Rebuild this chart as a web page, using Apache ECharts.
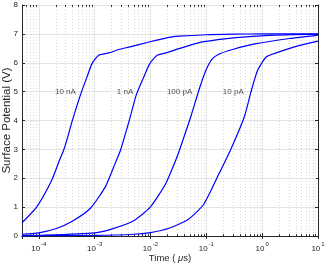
<!DOCTYPE html>
<html><head><meta charset="utf-8">
<script src="https://cdn.jsdelivr.net/npm/echarts@6/dist/echarts.min.js"></script>
<style>html,body{margin:0;padding:0;background:#fff}#c{width:328px;height:266px}</style>
</head><body><div id="c"></div><script>
// Time (µs) and surface potential (V)
const t10nA = [5e-5, 9.2e-5, 1.71e-4, 2.42e-4, 2.78e-4, 3.18e-4, 3.92e-4, 5.55e-4, 7.3e-4, 8.97e-4, 1.18e-3, 1.79e-3, 2.71e-3, 4.1e-3, 9.4e-3, 0.0215, 0.0325, 0.1, 0.3, 1, 10];
const v10nA = [0.46, 1.01, 1.94, 2.69, 2.97, 3.32, 3.95, 4.88, 5.51, 5.97, 6.26, 6.34, 6.46, 6.54, 6.72, 6.88, 6.92, 6.97, 6.99, 7.0, 7.0];
const t1nA = [5e-5, 1e-4, 2e-4, 3.9e-4, 8.4e-4, 1.56e-3, 2.2e-3, 2.9e-3, 4.1e-3, 5.55e-3, 7.6e-3, 9.7e-3, 0.0132, 0.0188, 0.0325, 0.05, 0.085, 0.34, 1.35, 10];
const v1nA = [0.06, 0.11, 0.25, 0.5, 0.96, 1.71, 2.40, 2.97, 3.95, 4.88, 5.51, 5.97, 6.26, 6.34, 6.49, 6.60, 6.72, 6.87, 6.95, 6.99];
const t100pA = [5e-5, 1e-4, 1e-3, 2e-3, 5e-3, 0.01, 0.0188, 0.0284, 0.033, 0.0527, 0.075, 0.0985, 0.129, 0.18, 0.296, 0.78, 3.1, 10];
const v100pA = [0.01, 0.02, 0.11, 0.24, 0.53, 1.01, 1.82, 2.63, 2.97, 4.13, 5.1, 5.74, 6.14, 6.32, 6.46, 6.66, 6.84, 6.96];
const t10pA = [5e-5, 1e-3, 5e-3, 0.01, 0.0215, 0.047, 0.09, 0.17, 0.27, 0.48, 0.63, 0.83, 1.18, 1.78, 4.7, 10];
const v10pA = [0.005, 0.02, 0.06, 0.12, 0.27, 0.57, 1.1, 2.17, 2.97, 4.13, 4.99, 5.74, 6.2, 6.34, 6.6, 6.75];

const curveNames = ['10 nA', '1 nA', '100 pA', '10 pA'];
const labelT = [3.0e-4, 3.5e-3, 0.0332, 0.304];
const labelV = [5, 5, 5, 5];

const xMin = 5e-5, xMax = 10;
const yMin = 0, yMax = 8, yStep = 1;
const minorTicks = [];
for (let d = -5; d <= 0; d++) for (let m = 2; m <= 9; m++) {
  const v = m * Math.pow(10, d);
  if (v > xMin * 1.0001 && v < xMax) minorTicks.push(v);
}

const TXT = '#262626';
const FONT = 'Liberation Sans, Arial, Helvetica, sans-serif';
const zip = (a, b) => a.map((x, i) => [x, b[i]]);

const curves = [[t10nA, v10nA], [t1nA, v1nA], [t100pA, v100pA], [t10pA, v10pA]];

const chart = echarts.init(document.getElementById('c'), null, {renderer: 'canvas'});
const option = {
  animation: false,
  backgroundColor: '#fff',
  textStyle: {fontFamily: FONT},
  grid: {left: 22, right: 10, top: 5, bottom: 30, containLabel: false, outerBoundsMode: 'none'},
  xAxis: [{
    type: 'log', logBase: 10, min: xMin, max: xMax,
    axisLine: {show: true, lineStyle: {color: TXT, width: 1}},
    axisTick: {show: true, inside: true, length: 3, lineStyle: {color: TXT, width: 1}},
    axisLabel: {
      margin: 5, showMinLabel: false,
      formatter: v => {
        const e = Math.log10(v), r = Math.round(e);
        if (Math.abs(e - r) > 1e-6) return '';
        return '{b|10}{s|' + (r < 0 ? '-' + (-r) : r) + '}';
      },
      rich: {
        b: {fontSize: 8, color: TXT, fontFamily: FONT, lineHeight: 12, verticalAlign: 'bottom'},
        s: {fontSize: 6, color: TXT, fontFamily: FONT, lineHeight: 6, verticalAlign: 'top', padding: [0, 0, 0, 1]}
      }
    },
    splitLine: {show: true, lineStyle: {color: '#e3e3e3', width: 1}},
    name: 'Time ( {i|\u03bc}s)', nameLocation: 'middle', nameGap: 17, nameMoveOverlap: false,
    nameTextStyle: {fontSize: 9.5, color: TXT, fontFamily: FONT,
      rich: {i: {fontSize: 9.5, fontStyle: 'italic', color: TXT, fontFamily: FONT}}}
  }, {
    type: 'log', logBase: 10, min: xMin, max: xMax, position: 'top',
    axisLine: {show: true, lineStyle: {color: TXT, width: 1}},
    axisTick: {show: true, inside: true, length: 3, lineStyle: {color: TXT, width: 1}},
    axisLabel: {show: false}, splitLine: {show: false}
  }],
  yAxis: [{
    type: 'value', min: yMin, max: yMax, interval: yStep,
    axisLine: {show: true, lineStyle: {color: TXT, width: 1}},
    axisTick: {show: true, inside: true, length: 3, lineStyle: {color: TXT, width: 1}},
    axisLabel: {margin: 4, fontSize: 8, color: TXT, fontFamily: FONT},
    splitLine: {show: true, lineStyle: {color: '#e3e3e3', width: 1}},
    name: 'Surface Potential (V)', nameLocation: 'middle', nameGap: 9, nameMoveOverlap: false,
    nameTextStyle: {fontSize: 11.5, color: TXT, fontFamily: FONT}
  }, {
    type: 'value', min: yMin, max: yMax, interval: yStep, position: 'right',
    axisLine: {show: true, lineStyle: {color: TXT, width: 1}},
    axisTick: {show: true, inside: true, length: 3, lineStyle: {color: TXT, width: 1}},
    axisLabel: {show: false}, splitLine: {show: false}
  }],
  series: [{
    type: 'custom', silent: true, z: 1, clip: true,
    data: minorTicks.map(t => [t, yMin]),
    encode: {x: 0, y: 1},
    renderItem: (params, api) => {
      const t = api.value(0);
      const p0 = api.coord([t, yMin]), p1 = api.coord([t, yMax]);
      const x = Math.round(p0[0]) + 0.5;
      return {type: 'group', children: [
        {type: 'line', shape: {x1: x, y1: p0[1], x2: x, y2: p1[1]},
          style: {stroke: '#d9d9d9', lineWidth: 1, lineDash: [1, 2]}},
        {type: 'line', shape: {x1: x, y1: p0[1], x2: x, y2: p0[1] - 1.8},
          style: {stroke: TXT, lineWidth: 1}},
        {type: 'line', shape: {x1: x, y1: p1[1], x2: x, y2: p1[1] + 1.8},
          style: {stroke: TXT, lineWidth: 1}}
      ]};
    }
  }].concat(curves.map((c, i) => ({
    type: 'line', name: curveNames[i], data: zip(c[0], c[1]),
    showSymbol: false, symbol: 'none', smooth: 0.2, z: 3,
    lineStyle: {color: '#0000ff', width: 1.2}
  }))).concat([{
    type: 'scatter', symbolSize: 0, silent: true, z: 4,
    data: labelT.map((t, i) => [t, labelV[i], curveNames[i]]),
    label: {show: true, position: 'inside', formatter: p => p.data[2],
      fontSize: 8, color: TXT, fontFamily: FONT}
  }])
};
chart.setOption(option);
</script></body></html>
